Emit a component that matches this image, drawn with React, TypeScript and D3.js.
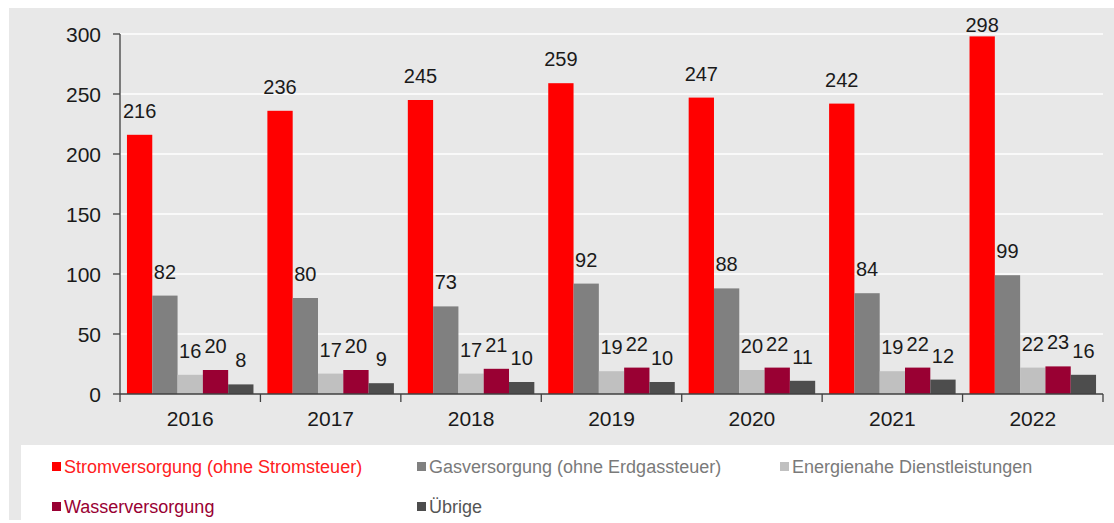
import { useEffect, useRef } from 'react'
import * as d3 from 'd3'

const YEARS = ['2016', '2017', '2018', '2019', '2020', '2021', '2022']
const SERIES = [
  'Stromversorgung (ohne Stromsteuer)',
  'Gasversorgung (ohne Erdgassteuer)',
  'Energienahe Dienstleistungen',
  'Wasserversorgung',
  'Übrige',
]
const STROM = [216, 236, 245, 259, 247, 242, 298]
const GAS = [82, 80, 73, 92, 88, 84, 99]
const ENERGIE = [16, 17, 17, 19, 20, 19, 22]
const WASSER = [20, 20, 21, 22, 22, 22, 23]
const UEBRIGE = [8, 9, 10, 10, 11, 12, 16]
const Y_TICKS = [0, 50, 100, 150, 200, 250, 300]

const BAR_COLOR = ['#ff0000', '#808080', '#c0c0c0', '#990033', '#4d4d4d']
const LEGEND_TEXT = ['#ff2020', '#7a7a7a', '#7a7a7a', '#990033', '#555555']

const W = 1114
const H = 523
const FONT = '"Liberation Sans", Arial, sans-serif'

export default function App() {
  const svgRef = useRef<SVGSVGElement>(null)

  useEffect(() => {
    if (!svgRef.current) return
    const svg = d3.select(svgRef.current)
    svg.selectAll('*').remove()

    const values = [STROM, GAS, ENERGIE, WASSER, UEBRIGE]

    // backgrounds
    svg.append('rect').attr('x', 0).attr('y', 0).attr('width', W).attr('height', H).attr('fill', '#fff')
    svg.append('rect').attr('x', 9).attr('y', 8).attr('width', W - 9).attr('height', 512).attr('fill', '#e8e8e8')
    svg.append('rect').attr('x', 21).attr('y', 445).attr('width', W - 21).attr('height', H - 445).attr('fill', '#fff')

    const x = d3.scaleBand().domain(YEARS).range([120, 1103]).padding(0)
    const inner = d3.scaleBand().domain(SERIES).range([0, x.bandwidth()]).paddingInner(0).paddingOuter(0.275)
    const y = d3.scaleLinear().domain([0, 300]).range([394, 34])

    // gridlines
    Y_TICKS.filter(t => t > 0).forEach(t => {
      svg.append('line').attr('x1', 120).attr('x2', 1103).attr('y1', y(t)).attr('y2', y(t))
        .attr('stroke', '#fff').attr('stroke-width', 1.5)
    })

    // bars
    SERIES.forEach((s, si) => {
      YEARS.forEach((yr, i) => {
        const v = values[si][i]
        svg.append('rect')
          .attr('x', x(yr)! + inner(s)!).attr('y', y(v))
          .attr('width', inner.bandwidth()).attr('height', y(0) - y(v))
          .attr('fill', BAR_COLOR[si])
      })
    })

    // value labels
    SERIES.forEach((s, si) => {
      YEARS.forEach((yr, i) => {
        const v = values[si][i]
        svg.append('text')
          .attr('x', x(yr)! + inner(s)! + inner.bandwidth() / 2)
          .attr('y', Math.max(32, y(v) - 17))
          .attr('text-anchor', 'middle').attr('font-family', FONT).attr('font-size', 20)
          .attr('fill', '#1a1a1a').text(v)
      })
    })

    // y axis
    svg.append('line').attr('x1', 120).attr('x2', 120).attr('y1', y(300)).attr('y2', y(0))
      .attr('stroke', '#404040').attr('stroke-width', 1.3)
    Y_TICKS.forEach(t => {
      svg.append('line').attr('x1', 113).attr('x2', 120).attr('y1', y(t)).attr('y2', y(t))
        .attr('stroke', '#404040').attr('stroke-width', 1.3)
      svg.append('text').attr('x', 101).attr('y', y(t) + 7.5)
        .attr('text-anchor', 'end').attr('font-family', FONT).attr('font-size', 21)
        .attr('fill', '#1a1a1a').text(t)
    })

    // x axis
    svg.append('line').attr('x1', 120).attr('x2', 1103).attr('y1', y(0)).attr('y2', y(0))
      .attr('stroke', '#404040').attr('stroke-width', 1.3)
    const bounds = YEARS.map(yr => x(yr)!).concat([x.range()[1]])
    bounds.forEach(bx => {
      svg.append('line').attr('x1', bx).attr('x2', bx).attr('y1', y(0)).attr('y2', y(0) + 8)
        .attr('stroke', '#404040').attr('stroke-width', 1.3)
    })
    YEARS.forEach(yr => {
      svg.append('text').attr('x', x(yr)! + x.bandwidth() / 2).attr('y', 426)
        .attr('text-anchor', 'middle').attr('font-family', FONT).attr('font-size', 21)
        .attr('fill', '#1a1a1a').text(yr)
    })

    // legend
    const legendPos = [[52, 467], [417, 467], [780, 467], [52, 507], [417, 507]]
    SERIES.forEach((s, si) => {
      const [lx, ly] = legendPos[si]
      svg.append('rect').attr('x', lx).attr('y', ly - 5).attr('width', 9).attr('height', 9)
        .attr('fill', BAR_COLOR[si])
      svg.append('text').attr('x', lx + 12).attr('y', ly + 6)
        .attr('font-family', FONT).attr('font-size', 18).attr('fill', LEGEND_TEXT[si]).text(s)
    })
  }, [])

  return (
    <svg ref={svgRef} width={W} height={H}
      style={{ position: 'absolute', left: 0, top: 0, display: 'block' }} />
  )
}
